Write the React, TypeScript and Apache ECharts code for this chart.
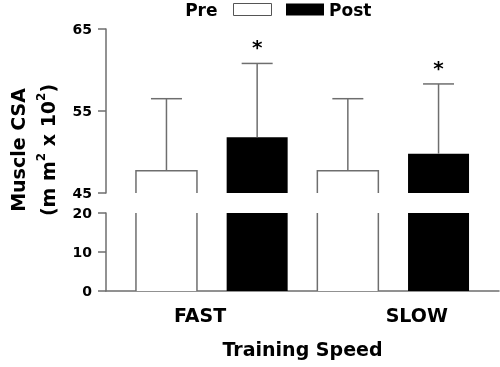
import React, { useEffect, useRef } from 'react';
import * as echarts from 'echarts';

// ---- data ----
const categories = ['FAST', 'SLOW'];
const seriesNames = ['Pre', 'Post'];
const preMean = [47.7, 47.7];
const postMean = [51.8, 49.8];
const preSD = [8.8, 8.8];
const postSD = [9.0, 8.5];
const preSignificant = [false, false];
const postSignificant = [true, true];
const upperRange = [45, 65];
const lowerRange = [0, 20];
const tickStep = 10;

// ---- style / layout constants ----
const FONT = 'DejaVu Sans';
const AXIS_COLOR = '#6e6e6e';
const BAR_W = 61;
const CAP_W = 31;
const X_MIN = 1 / 3;
const X_MAX = 14 / 3;
const LABEL_POS = [1.37, 3.76];

const preX = (i: number) => 2 * i + 1;
const postX = (i: number) => 2 * i + 2;

const makeBarRender = (kind: 'pre' | 'post', yMin: number, yMax: number) =>
  (_params: any, api: any) => {
    const x = api.value(0);
    const v = api.value(1);
    if (v <= yMin) return null;
    const clipped = v > yMax;
    const topV = Math.min(v, yMax);
    const [cx, ty] = api.coord([x, topV]);
    const by = api.coord([x, yMin])[1];
    const l = cx - BAR_W / 2;
    const r = cx + BAR_W / 2;
    const children: any[] = [];
    if (kind === 'post') {
      children.push({ type: 'rect', shape: { x: l, y: ty, width: BAR_W, height: by - ty }, style: { fill: '#000' } });
    } else {
      children.push({ type: 'rect', shape: { x: l, y: ty, width: BAR_W, height: by - ty }, style: { fill: '#fff' } });
      const lineStyle = { stroke: AXIS_COLOR, lineWidth: 1.5, fill: null };
      if (clipped) {
        children.push({ type: 'line', shape: { x1: l, y1: ty, x2: l, y2: by }, style: lineStyle });
        children.push({ type: 'line', shape: { x1: r, y1: ty, x2: r, y2: by }, style: lineStyle });
      } else {
        children.push({ type: 'polyline', shape: { points: [[l, by], [l, ty], [r, ty], [r, by]] }, style: lineStyle });
      }
    }
    return { type: 'group', children };
  };

const errorRender = (_params: any, api: any) => {
  const x = api.value(0);
  const m = api.value(1);
  const sd = api.value(2);
  const sig = api.value(3);
  const [cx, y0] = api.coord([x, m]);
  const y1 = api.coord([x, m + sd])[1];
  const ls = { stroke: AXIS_COLOR, lineWidth: 1.5 };
  const children: any[] = [
    { type: 'line', shape: { x1: cx, y1: y0, x2: cx, y2: y1 }, style: ls },
    { type: 'line', shape: { x1: cx - CAP_W / 2, y1: y1, x2: cx + CAP_W / 2, y2: y1 }, style: ls },
  ];
  if (sig) {
    children.push({
      type: 'text',
      style: {
        text: '*', x: cx, y: y1 - 16, align: 'center', verticalAlign: 'middle',
        fontSize: 20, fontWeight: 'bold', fontFamily: FONT, fill: '#000',
      },
    });
  }
  return { type: 'group', children };
};

export default function App() {
  const ref = useRef<HTMLDivElement>(null);
  useEffect(() => {
    if (!ref.current) return;
    const chart = echarts.init(ref.current, null, { renderer: 'svg' });

    const preTop = preMean.map((v, i) => [preX(i), v]);
    const postTop = postMean.map((v, i) => [postX(i), v]);
    const errData = [
      ...preMean.map((v, i) => [preX(i), v, preSD[i], preSignificant[i] ? 1 : 0]),
      ...postMean.map((v, i) => [postX(i), v, postSD[i], postSignificant[i] ? 1 : 0]),
    ];

    const yAxisCommon = {
      type: 'value',
      interval: tickStep,
      axisLine: { show: true, lineStyle: { color: AXIS_COLOR, width: 1.5 } },
      axisTick: { show: true, inside: false, length: 8, lineStyle: { color: AXIS_COLOR, width: 1.5 } },
      axisLabel: { margin: 14, fontSize: 14, fontWeight: 'bold', fontFamily: FONT, color: '#000' },
      splitLine: { show: false },
    };

    const legendCommon = {
      top: 1,
      padding: 0,
      itemWidth: 38,
      itemHeight: 12,
      icon: 'rect',
      selectedMode: false,
    };

    chart.setOption({
      animation: false,
      grid: [
        { left: 106, width: 393, top: 29, height: 164 },
        { left: 106, width: 393, top: 213, height: 78 },
        { left: 106, width: 393, top: 10, height: 280 },
      ],
      legend: [
        {
          ...legendCommon,
          data: [{ name: seriesNames[0], itemStyle: { color: '#fff', borderColor: '#555', borderWidth: 1 } }],
          right: 228,
          align: 'right',
          textStyle: { fontSize: 17, fontWeight: 'bold', fontFamily: FONT, color: '#000', padding: [0, 11, 0, 0] },
        },
        {
          ...legendCommon,
          data: [{ name: seriesNames[1], itemStyle: { color: '#000' } }],
          left: 286,
          align: 'left',
          textStyle: { fontSize: 17, fontWeight: 'bold', fontFamily: FONT, color: '#000' },
        },
      ],
      xAxis: [
        { type: 'value', gridIndex: 0, min: X_MIN, max: X_MAX, show: false },
        {
          type: 'value', gridIndex: 1, min: X_MIN, max: X_MAX,
          axisLine: { show: true, onZero: false, lineStyle: { color: AXIS_COLOR, width: 1.5 } },
          axisTick: { show: false },
          splitLine: { show: false },
          axisLabel: {
            customValues: LABEL_POS,
            margin: 14,
            fontSize: 19, fontWeight: 'bold', fontFamily: FONT, color: '#000',
            formatter: (v: number) => {
              const idx = LABEL_POS.findIndex((p) => Math.abs(p - v) < 1e-6);
              return idx >= 0 ? categories[idx] : '';
            },
          },
          name: 'Training Speed',
          nameLocation: 'middle',
          nameGap: 48,
          nameTextStyle: { fontSize: 19, fontWeight: 'bold', fontFamily: FONT, color: '#000' },
        },
        { type: 'value', gridIndex: 2, show: false },
      ],
      yAxis: [
        { ...yAxisCommon, gridIndex: 0, min: upperRange[0], max: upperRange[1] },
        { ...yAxisCommon, gridIndex: 1, min: lowerRange[0], max: lowerRange[1] },
        {
          type: 'value', gridIndex: 2,
          axisLine: { show: false }, axisTick: { show: false }, axisLabel: { show: false }, splitLine: { show: false },
          name: '{a|Muscle CSA}\n{a|(m m}{s|2}{a| x 10}{s|2}{a|)}',
          nameLocation: 'middle',
          nameRotate: 90,
          nameGap: 57,
          nameTextStyle: {
            rich: {
              a: { fontSize: 19, fontWeight: 'bold', fontFamily: FONT, color: '#000', lineHeight: 30 },
              s: { fontSize: 12, fontWeight: 'bold', fontFamily: FONT, color: '#000', lineHeight: 30, padding: [0, 0, 14, 0] },
            },
          },
        },
      ],
      series: [
        { type: 'custom', name: seriesNames[0], xAxisIndex: 0, yAxisIndex: 0, data: preTop, renderItem: makeBarRender('pre', upperRange[0], upperRange[1]) },
        { type: 'custom', name: seriesNames[1], xAxisIndex: 0, yAxisIndex: 0, data: postTop, renderItem: makeBarRender('post', upperRange[0], upperRange[1]) },
        { type: 'custom', name: seriesNames[0], xAxisIndex: 1, yAxisIndex: 1, data: preTop, renderItem: makeBarRender('pre', lowerRange[0], lowerRange[1]) },
        { type: 'custom', name: seriesNames[1], xAxisIndex: 1, yAxisIndex: 1, data: postTop, renderItem: makeBarRender('post', lowerRange[0], lowerRange[1]) },
        { type: 'custom', name: 'SD', xAxisIndex: 0, yAxisIndex: 0, data: errData, renderItem: errorRender, z: 3 },
      ],
    });
    return () => chart.dispose();
  }, []);
  return <div ref={ref} style={{ position: 'fixed', left: 0, top: 0, width: 500, height: 367 }} />;
}
